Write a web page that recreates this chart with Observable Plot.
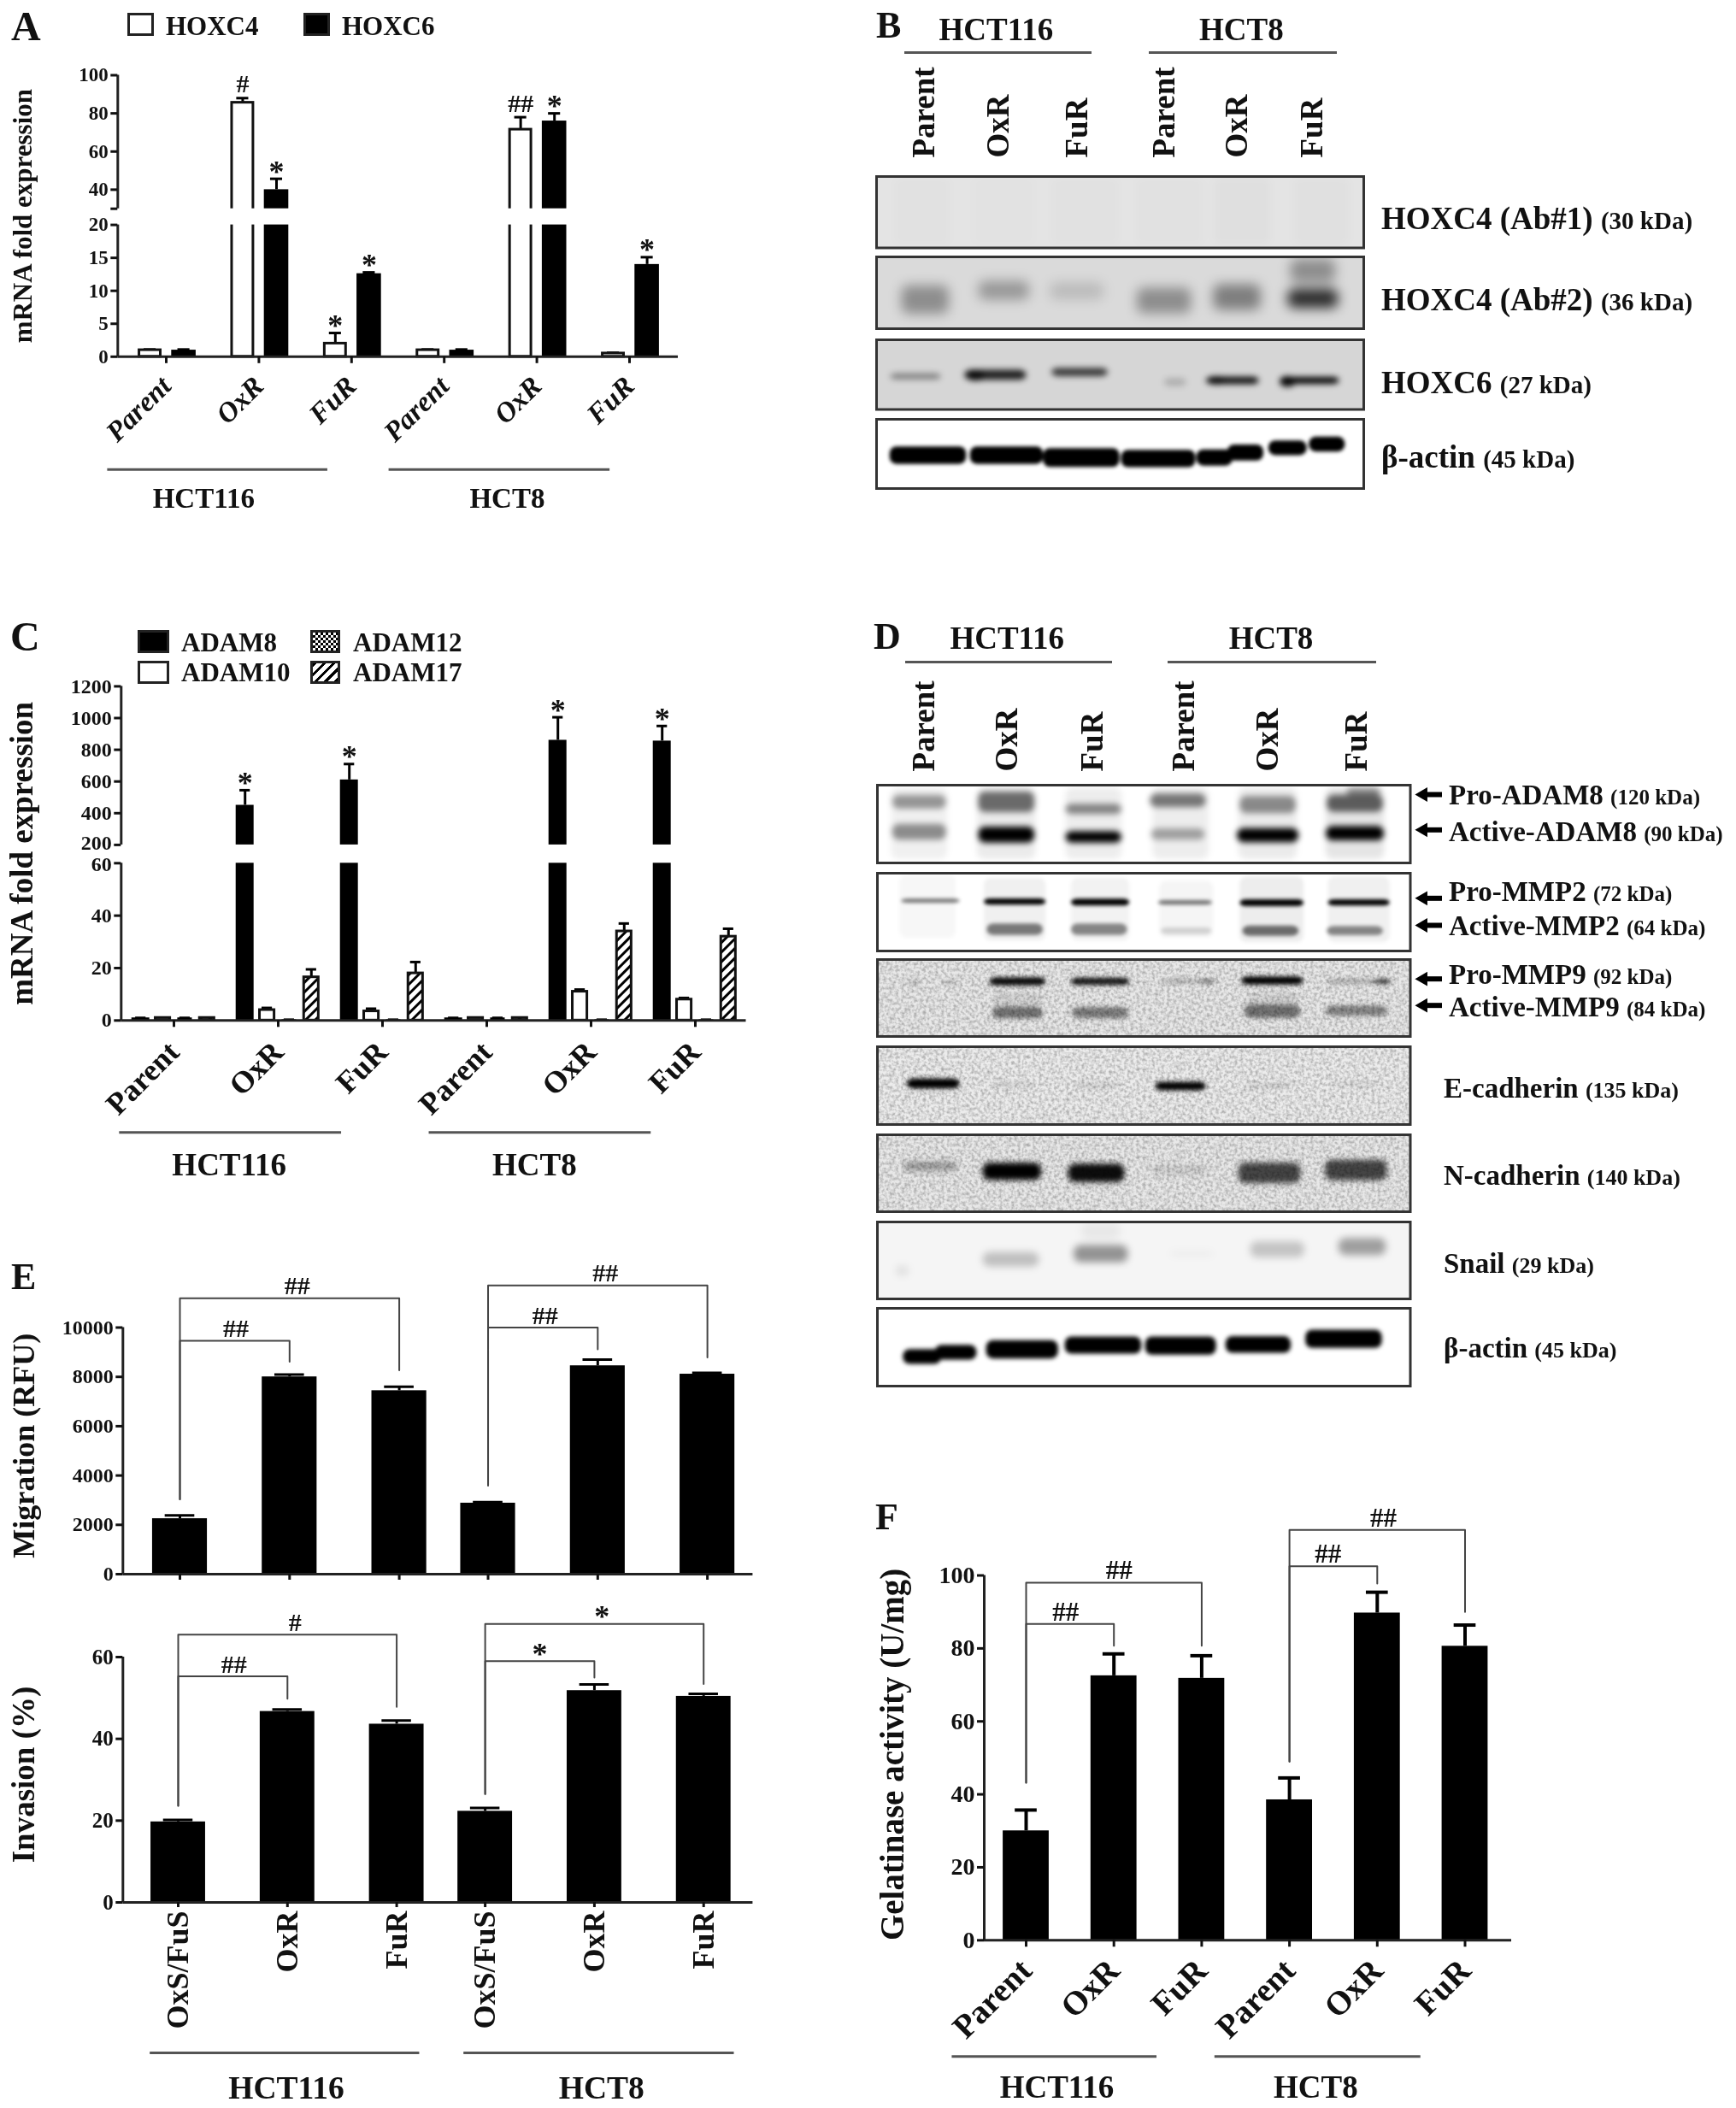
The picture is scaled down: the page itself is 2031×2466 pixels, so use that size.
<!DOCTYPE html>
<html><head><meta charset="utf-8">
<script src="https://cdn.jsdelivr.net/npm/d3@7"></script>
<script src="https://cdn.jsdelivr.net/npm/@observablehq/plot@0.6"></script>
<style>
html,body{margin:0;padding:0;background:#fff}
#page{position:relative;width:2031px;height:2466px;overflow:hidden;font-family:"Liberation Serif","Times New Roman",serif;font-weight:bold;color:#111;filter:blur(.55px)}
.t{position:absolute;white-space:nowrap;line-height:1;transform:translateY(-50%)}
.l{position:absolute;height:3px;background:#555}
.s{position:absolute;box-sizing:border-box;border:3px solid #222}
.p{position:absolute}
</style></head><body><div id="page">
<svg width="0" height="0" style="position:absolute"><defs>
<pattern id="hatch" patternUnits="userSpaceOnUse" width="8" height="8" patternTransform="rotate(45)"><rect width="8" height="8" fill="#fff"/><rect width="3" height="8" fill="#000"/></pattern>
<filter id="grain" x="0" y="0" width="100%" height="100%"><feTurbulence type="fractalNoise" baseFrequency=".28" numOctaves="2" seed="3"/><feColorMatrix type="matrix" values="0 0 0 0 0  0 0 0 0 0  0 0 0 0 0  .55 0 0 0 -.2"/><feComposite in2="SourceAlpha" operator="in"/></filter>
</defs></svg>
</div>
<script>
// ---------- DATA ----------
const groupsParent = ["Parent","OxR","FuR","Parent","OxR","FuR"];
const groupsOxS = ["OxS/FuS","OxR","FuR","OxS/FuS","OxR","FuR"];
const evenX = [0,1,2,3,4,5];
const splitX = [0,1,2,2.81,3.81,4.81];

const hoxc4 = [1,85.6,2,1,71.5,0.5];
const hoxc4Top = [1.1,88,3.6,1.1,78,0.6];
const hoxc6 = [1,40,12.6,1,76,14];
const hoxc6Top = [1.1,45.7,12.8,1.1,80,15.1];

const adam8 = [1,450,610,1,860,855];
const adam8Top = [1,545,710,1,1005,950];
const adam10 = [1,4,3.5,1,11,8];
const adam10Top = [1,4.8,4.5,1,11.8,8.6];
const adam12 = [1,0.3,0.3,1,0.3,0.3];
const adam12Top = [1,0.3,0.3,1,0.3,0.3];
const adam17 = [1,16.5,18,1,34,32];
const adam17Top = [1,19.5,22.3,1,37,35];

const migration = [2250,8000,7440,2880,8450,8110];
const migrationTop = [2380,8090,7600,2920,8700,8160];
const invasion = [19.7,46.7,43.6,22.3,51.8,50.4];
const invasionTop = [20.2,47.2,44.5,23.1,53.3,51];
const gelatinase = [30,72.5,71.8,38.5,89.7,80.6];
const gelatinaseTop = [35.7,78.5,78,44.5,95.4,86.4];

const migrationBrackets = [
 {a:0,b:2,start:3030,top:11190,end:8270,text:"##",at:1.07},
 {a:0,b:1,start:3030,top:9460,end:8610,text:"##",at:0.51},
 {a:2.81,b:4.81,start:3600,top:11710,end:8790,text:"##",at:3.88},
 {a:2.81,b:3.81,start:3600,top:10000,end:9120,text:"##",at:3.33}];
const invasionBrackets = [
 {a:0,b:2,start:23.6,top:65.5,end:47.8,text:"#",at:1.07},
 {a:0,b:1,start:23.6,top:55.3,end:49.8,text:"##",at:0.51},
 {a:2.81,b:4.81,start:26.5,top:68.1,end:53.4,text:"*",at:3.88},
 {a:2.81,b:3.81,start:26.5,top:59,end:55,text:"*",at:3.31}];
const gelatinaseBrackets = [
 {a:0,b:2,start:43.2,top:98,end:80.7,text:"##",at:1.06},
 {a:0,b:1,start:43.2,top:86.7,end:80.7,text:"##",at:0.45},
 {a:3,b:5,start:49,top:112.5,end:90,text:"##",at:4.07},
 {a:3,b:4,start:49,top:102.5,end:97.8,text:"##",at:3.44}];

// bands: [lane centre, migration, half width, half height, darkness] in scan units
const bAb1 = [[120,625,50,100,.012],[265,625,55,100,.008],[410,625,60,100,.012],[560,625,60,100,.012],[690,625,50,100,.02],[830,625,50,100,.015]];
const bAb2 = [[125,885,42,42,.35],[265,858,45,28,.3],[395,860,48,25,.14],[550,888,48,38,.35],[680,878,42,38,.42],[815,882,45,28,.8],[815,800,40,35,.35]];
const bC6 = [[108,1113,45,9,.4],[250,1108,55,15,.85],[215,1110,15,16,.7],[400,1100,50,12,.75],[570,1130,20,12,.18],[672,1125,47,11,.95],[645,1125,15,12,.7],[810,1125,52,10,1],[770,1128,14,16,.9]];
const bActin = [[130,1345,68,26,1],[270,1345,65,26,1],[403,1352,68,28,1],[540,1355,66,26,1],[640,1352,32,24,1],[695,1337,32,24,1],[770,1323,34,22,1],[840,1312,32,22,1]];
const dAdam8 = [[115,790,50,125,.06],[270,790,52,125,.08],[425,790,50,125,.07],[580,790,50,125,.07],[735,790,52,125,.08],[890,790,52,125,.1],
 [115,715,48,24,.38],[270,715,50,36,.55],[425,740,50,18,.45],[575,710,50,24,.5],[735,725,50,30,.42],[890,720,50,30,.6],[905,680,30,15,.4],
 [115,820,48,28,.42],[270,830,50,28,1],[425,838,50,20,1],[575,828,48,20,.33],[735,832,55,25,1],[890,825,52,25,1]];
const dMmp2 = [[130,1080,50,110,.03],[285,1090,55,110,.06],[437,1090,52,110,.05],[590,1090,48,100,.04],[742,1090,57,115,.07],[897,1090,55,115,.06],
 [135,1060,52,7,.55],[285,1063,55,11,1],[437,1065,52,12,1],[588,1066,48,8,.55],[742,1067,57,12,1],[897,1066,55,11,1],
 [285,1160,50,20,.5],[435,1160,50,20,.45],[590,1165,45,12,.15],[740,1165,50,18,.55],[890,1165,50,16,.45]];
const dMmp9 = [[105,1350,12,8,.18],[172,1350,12,8,.18],[290,1345,50,14,.95],[437,1345,52,13,.9],[590,1345,45,7,.25],[630,1345,12,8,.4],[743,1342,55,14,1],[895,1345,55,7,.3],[940,1345,15,10,.6],
 [290,1455,45,20,.5],[437,1455,50,20,.45],[743,1450,50,23,.5],[893,1448,55,18,.42],[290,1410,45,25,.08],[743,1410,45,25,.08]];
const dEcad = [[140,203,47,17,1],[580,212,45,15,1],[280,208,40,8,.1],[430,210,40,8,.12],[735,210,40,8,.12],[890,205,45,8,.08]];
const dNcad = [[135,492,48,17,.3],[280,510,52,30,1],[430,515,50,32,.95],[578,505,50,17,.1],[738,515,55,36,.7],[892,505,55,36,.7]];
const dSnail = [[85,860,12,20,.08],[278,820,50,25,.22],[438,800,48,30,.4],[438,720,35,30,.05],[600,800,40,8,.04],[752,785,48,28,.2],[903,775,42,30,.35]];
const dActin = [[120,1160,34,26,1],[180,1145,37,26,1],[298,1135,64,32,1],[442,1120,68,30,1],[580,1122,63,32,1],[718,1118,58,29,1],[870,1098,68,32,1]];

const page = document.getElementById("page");
const FONT = '"Liberation Serif","Times New Roman",serif';

// ---------- page furniture ----------
function txt(x, y, parts, extra) {
  const d = document.createElement("div"); d.className = "t";
  d.style.left = x + "px"; d.style.top = y + "px";
  if (extra) Object.assign(d.style, extra);
  for (const [s, size] of parts) { const sp = document.createElement("span"); sp.textContent = s; sp.style.fontSize = size + "px"; d.appendChild(sp); }
  page.appendChild(d); return d;
}
function line(x1, x2, y) { const d = document.createElement("div"); d.className = "l"; Object.assign(d.style,{left:x1+"px",top:(y-1.5)+"px",width:(x2-x1)+"px"}); page.appendChild(d); }
function swatch(x, y, w, h, bg) { const d = document.createElement("div"); d.className = "s"; Object.assign(d.style,{left:x+"px",top:y+"px",width:w+"px",height:h+"px",background:bg}); page.appendChild(d); }
function place(svg, box) { const d = document.createElement("div"); d.className = "p"; Object.assign(d.style,{left:box[0]+"px",top:box[1]+"px",width:(box[2]-box[0])+"px",height:(box[3]-box[1])+"px"}); d.appendChild(svg); page.appendChild(d); }

// ---------- bar panels ----------
function barChart(c) {
  const [bx0,by0,bx1,by1] = c.box;
  const xDom = [(c.frameL-c.x0)/c.step, (c.frameR-c.x0)/c.step];
  const rowsOf = s => c.xs.map((x,i)=>({x:x+(s.offset||0),v:s.values[i],top:s.tops[i],i}));
  const marks = [];
  for (const s of c.series) {
    const rows = rowsOf(s);
    marks.push(Plot.ruleX(rows,{x:"x",y1:"v",y2:"top",stroke:"#000",strokeWidth:c.errWidth||3}));
    marks.push(Plot.ruleY(rows,{y:"top",x1:d=>d.x-c.cap,x2:d=>d.x+c.cap,stroke:"#000",strokeWidth:c.errWidth||3}));
    marks.push(Plot.rect(rows,{x1:d=>d.x-s.hw,x2:d=>d.x+s.hw,y1:()=>0,y2:"v",fill:s.fill,stroke:s.stroke||"none",strokeWidth:3}));
  }
  if (c.gap) {
    marks.push(Plot.rect([0],{x1:()=>xDom[0],x2:()=>xDom[1],y1:()=>c.gap[0],y2:()=>c.gap[1],fill:"#fff"}));
    marks.push(Plot.ruleX([xDom[0]],{y1:()=>c.yDomain[0],y2:()=>c.gap[0],strokeWidth:3,stroke:"#222"}));
    marks.push(Plot.ruleX([xDom[0]],{y1:()=>c.gap[1],y2:()=>c.yDomain[c.yDomain.length-1],strokeWidth:3,stroke:"#222"}));
  } else {
    marks.push(Plot.ruleX([xDom[0]],{y1:()=>c.yDomain[0],y2:()=>c.yDomain[c.yDomain.length-1],strokeWidth:3,stroke:"#222"}));
  }
  marks.push(Plot.ruleY([0],{strokeWidth:3,stroke:"#222"}));
  const nudge = c.yNudge || {};
  marks.push(Plot.axisY({ticks:c.yTicks,tickSize:8,tickPadding:3,strokeWidth:3,fontSize:c.tickFont,label:null,
    tickFormat:d=>((c.yBlank&&c.yBlank.includes(d))||d in nudge)?"":String(d)}));
  for (const k of Object.keys(nudge)) {
    marks.push(Plot.axisY({ticks:[+k],tickSize:0,tickPadding:11,fontSize:c.tickFont,label:null,dy:nudge[k],tickFormat:d=>String(d)}));
  }
  marks.push(Plot.axisX({ticks:c.xs,tickSize:c.xTickSize||8,strokeWidth:3,label:null,anchor:"bottom",
    tickRotate:c.rotate,tickPadding:c.padX,fontSize:c.labelFont,fontStyle:c.italic?"italic":"normal",
    tickFormat:d=>c.labels?c.labels[c.xs.indexOf(d)]:""}));
  marks.push(Plot.text([c.yLabel],{frameAnchor:"left",textAnchor:"middle",dx:c.yLabelX-c.frameL,dy:c.yLabelDy||0,rotate:-90,fontSize:c.yLabelFont,text:d=>d}));
  if (c.annots) {
    const rows = c.annots.map(a=>{const s=c.series[a.s];return {x:c.xs[a.g]+(s.offset||0),top:s.tops[a.g],t:a.t};});
    const star = rows.filter(d=>d.t==="*"), hash = rows.filter(d=>d.t!=="*");
    marks.push(Plot.text(star,{x:"x",y:"top",text:"t",fontSize:c.annotFont+6,dy:-8}));
    marks.push(Plot.text(hash,{x:"x",y:"top",text:"t",fontSize:c.annotFont,dy:-16}));
  }
  if (c.brackets) {
    const pts = c.brackets.flatMap((b,k)=>[{k,x:b.a,y:b.start},{k,x:b.a,y:b.top},{k,x:b.b,y:b.top},{k,x:b.b,y:b.end}]);
    marks.push(Plot.line(pts,{x:"x",y:"y",z:"k",stroke:"#444",strokeWidth:2,curve:"linear"}));
    marks.push(Plot.text(c.brackets.filter(b=>b.text!=="*"),{x:"at",y:"top",text:"text",fontSize:c.hashFont,dy:-14}));
    marks.push(Plot.text(c.brackets.filter(b=>b.text==="*"),{x:"at",y:"top",text:"text",fontSize:c.hashFont+6,dy:-8}));
  }
  if (c.spans) {
    marks.push(Plot.ruleY(c.spans,{y:()=>0,x1:"x1",x2:"x2",dy:c.spanDy,stroke:"#555",strokeWidth:3}));
    marks.push(Plot.text(c.spans,{x:"mid",y:()=>0,text:"name",dy:c.nameDy,fontSize:c.nameFont}));
  }
  const yPx = c.yPx.map(v=>v-by0);
  place(Plot.plot({
    width:bx1-bx0,height:by1-by0,
    marginLeft:c.frameL-bx0,marginRight:bx1-c.frameR,
    marginTop:yPx[yPx.length-1],marginBottom:(by1-by0)-yPx[0],
    x:{domain:xDom,axis:null},y:{type:"linear",domain:c.yDomain,range:yPx,axis:null},
    style:{fontFamily:FONT,fontWeight:"bold",color:"#111",background:"transparent",overflow:"visible"},
    marks
  }), c.box);
}

const s = (values,tops,offset,hw,fill,stroke)=>({values,tops,offset,hw,fill,stroke});

// Panel A
barChart({box:[0,0,830,640],frameL:137.3,frameR:793,x0:194,step:108.4,xs:evenX,labels:groupsParent,
  yDomain:[0,20,30,100],yPx:[416.8,262.6,243.7,87.5],gap:[20,30],yTicks:[0,5,10,15,20,30,40,60,80,100],yBlank:[30],tickFont:23,
  series:[s(hoxc4,hoxc4Top,-.175,.115,"#fff","#111"),s(hoxc6,hoxc6Top,.19,.132,"#000")],cap:.065,
  rotate:-45,padX:21,labelFont:33,italic:true,
  yLabel:"mRNA fold expression",yLabelX:27,yLabelFont:31,
  annots:[{g:1,s:0,t:"#"},{g:1,s:1,t:"*"},{g:2,s:0,t:"*"},{g:2,s:1,t:"*"},{g:4,s:0,t:"##"},{g:4,s:1,t:"*"},{g:5,s:1,t:"*"}],annotFont:30,
  spans:[{x1:-.633,x2:1.743,mid:.404,name:"HCT116"},{x1:2.404,x2:4.789,mid:3.68,name:"HCT8"}],spanDy:132,nameDy:166,nameFont:33});
txt(13,31,[["A",48]]);
swatch(149,15,31,27,"#fff"); txt(194,30,[["HOXC4",31]]);
swatch(355,15,31,27,"#000"); txt(400,30,[["HOXC6",31]]);

// Panel C
barChart({box:[0,700,950,1420],frameL:141.3,frameR:872.5,x0:203,step:122,xs:evenX,labels:groupsParent,
  yDomain:[0,60,200,1200],yPx:[1193.3,1009.3,987.9,802.4],gap:[60,200],yTicks:[0,20,40,60,200,400,600,800,1000,1200],tickFont:24,yNudge:{60:1.5,200:-2},
  series:[s(adam8,adam8Top,-.318,.086,"#000"),s(adam10,adam10Top,-.106,.07,"#fff","#111"),s(adam12,adam12Top,.106,.07,"#000"),s(adam17,adam17Top,.318,.07,"url(#hatch)","#111")],cap:.05,
  rotate:-45,padX:23,labelFont:36,
  yLabel:"mRNA fold expression",yLabelX:26,yLabelFont:37,
  annots:[{g:1,s:0,t:"*"},{g:2,s:0,t:"*"},{g:4,s:0,t:"*"},{g:5,s:0,t:"*"}],annotFont:30,
  spans:[{x1:-.522,x2:1.607,mid:.53,name:"HCT116"},{x1:2.447,x2:4.576,mid:3.458,name:"HCT8"}],spanDy:131,nameDy:169,nameFont:37});
txt(12,745,[["C",48]]);
swatch(161,737,37,27,"#000"); txt(212,751,[["ADAM8",31]]);
swatch(161,773,37,27,"#fff"); txt(212,786,[["ADAM10",31]]);
swatch(363,737,35,27,"repeating-conic-gradient(#000 0 25%,#fff 0 50%) 0 0/6px 6px"); txt(413,751,[["ADAM12",31]]);
swatch(363,773,35,27,"repeating-linear-gradient(135deg,#000 0 3px,#fff 3px 8px)"); txt(413,786,[["ADAM17",31]]);

// Panel E
barChart({box:[0,1480,900,1860],frameL:143.3,frameR:880.4,x0:210,step:128.3,xs:splitX,
  yDomain:[0,10000],yPx:[1841,1552.5],yTicks:[0,2000,4000,6000,8000,10000],tickFont:24,
  series:[s(migration,migrationTop,0,.25,"#000")],cap:.135,
  rotate:0,padX:4,labelFont:10,xTickSize:7,
  yLabel:"Migration (RFU)",yLabelX:28,yLabelFont:36,yLabelDy:-6,
  brackets:migrationBrackets,hashFont:30});
barChart({box:[0,1860,900,2466],frameL:143.3,frameR:880.4,x0:208,step:127.8,xs:splitX,labels:groupsOxS,
  yDomain:[0,60],yPx:[2225,1938],yTicks:[0,20,40,60],tickFont:25,
  series:[s(invasion,invasionTop,0,.25,"#000")],cap:.135,
  rotate:-90,padX:4,labelFont:36,xTickSize:6,
  yLabel:"Invasion (%)",yLabelX:28,yLabelFont:37,yLabelDy:-6,
  brackets:invasionBrackets,hashFont:30,
  spans:[{x1:-.257,x2:2.21,mid:.99,name:"HCT116"},{x1:2.615,x2:5.09,mid:3.875,name:"HCT8"}],spanDy:176,nameDy:217,nameFont:37.5});
txt(13,1494,[["E",44]]);

// Panel F
barChart({box:[1000,1760,1800,2466],frameL:1151,frameR:1768,x0:1200,step:102.7,xs:evenX,labels:groupsParent,
  yDomain:[0,100],yPx:[2269.3,1842.5],yTicks:[0,20,40,60,80,100],tickFont:28,
  series:[s(gelatinase,gelatinaseTop,0,.262,"#000")],cap:.125,errWidth:4,
  rotate:-45,padX:21,labelFont:39,
  yLabel:"Gelatinase activity (U/mg)",yLabelX:1044,yLabelFont:39,yLabelDy:-4,
  brackets:gelatinaseBrackets,hashFont:31,
  spans:[{x1:-.843,x2:1.49,mid:.35,name:"HCT116"},{x1:2.15,x2:4.496,mid:3.3,name:"HCT8"}],spanDy:136,nameDy:172,nameFont:37});
txt(1024,1775,[["F",44]]);

// ---------- blots ----------
function blot(c) {
  const top = c.lanes ? 145 : 0, right = c.arrows ? 60 : 0;
  const w = c.right-c.left, h = c.bottom-c.top;
  const box = [c.left,c.top-top,c.right+right,c.bottom];
  const marks = [Plot.frame({fill:c.bg||"#fff",stroke:"none"})];
  if (c.grain) marks.push(Plot.frame({fill:"#000",stroke:"none",imageFilter:"url(#grain)"}));
  marks.push(
    Plot.rect(c.bands||[],{x1:d=>d[0]-d[2],x2:d=>d[0]+d[2],y1:d=>d[1]-d[3],y2:d=>d[1]+d[3],fill:"#000",fillOpacity:d=>d[4],rx:8,imageFilter:`blur(${c.blur||3}px)`,clip:"frame"}),
    Plot.frame({stroke:"#333",strokeWidth:3})
  );
  if (c.lanes) marks.push(Plot.axisX({anchor:"top",ticks:c.lanes,tickSize:0,tickPadding:c.lanePad,tickRotate:-90,fontSize:37,label:null,tickFormat:d=>groupsParent[c.lanes.indexOf(d)]}));
  if (c.arrows) {
    marks.push(Plot.ruleY(c.arrows,{y:d=>d,x1:()=>c.arrowX[0]+12,x2:()=>c.arrowX[1],stroke:"#000",strokeWidth:6}));
    marks.push(Plot.dot(c.arrows,{x:()=>c.arrowX[0]+13,y:d=>d,symbol:"triangle2",rotate:-90,r:8,fill:"#000",stroke:"none"}));
  }
  place(Plot.plot({
    width:w+right,height:h+top,marginLeft:0,marginRight:right,marginTop:top,marginBottom:0,
    x:{domain:c.xDom,axis:null},y:{domain:[c.yDom[1],c.yDom[0]],axis:null},
    style:{fontFamily:FONT,fontWeight:"bold",color:"#111",background:"transparent",overflow:"visible"},
    marks
  }),box);
}
const bL=1025,bR=1595,bX=[38,905];
blot({left:bL,right:bR,top:206,bottom:289.5,xDom:bX,yDom:[520,733],bg:"#e4e4e4",bands:bAb1,blur:5,lanes:[122,255,395,550,680,813],lanePad:22});
blot({left:bL,right:bR,top:299.5,bottom:383.5,xDom:bX,yDom:[758,970],bg:"#dadada",bands:bAb2,blur:7});
blot({left:bL,right:bR,top:397,bottom:478.5,xDom:bX,yDom:[1003,1210],bg:"#d6d6d6",bands:bC6,blur:3.5});
blot({left:bL,right:bR,top:489.5,bottom:570.5,xDom:bX,yDom:[1237,1443],bands:bActin,blur:2});

const dL=1026,dR=1649.5,dX=[40,988],aX=[998,1045];
blot({left:dL,right:dR,top:918,bottom:1009,xDom:dX,yDom:[655,928],bands:dAdam8,blur:3.5,lanes:[123,270,423,585,735,892],lanePad:16,arrows:[688,812],arrowX:aX});
blot({left:dL,right:dR,top:1021,bottom:1112,xDom:dX,yDom:[962,1235],bands:dMmp2,blur:2,arrows:[1050,1145],arrowX:aX});
blot({left:dL,right:dR,top:1122,bottom:1212,xDom:dX,yDom:[1267,1537],bg:"#e8e8e8",grain:true,bands:dMmp9,blur:2.5,arrows:[1335,1428],arrowX:aX});
blot({left:dL,right:dR,top:1224,bottom:1315,xDom:dX,yDom:[73,345],bg:"#ececec",grain:true,bands:dEcad,blur:2.5});
blot({left:dL,right:dR,top:1327,bottom:1417,xDom:dX,yDom:[380,650],bg:"#e8e8e8",grain:true,bands:dNcad,blur:3});
blot({left:dL,right:dR,top:1429,bottom:1519,xDom:dX,yDom:[687,958],bg:"#f5f5f5",bands:dSnail,blur:4});
blot({left:dL,right:dR,top:1530,bottom:1621,xDom:dX,yDom:[990,1262],bands:dActin,blur:2.5});

// Panel B labels
txt(1025,30,[["B",44]]);
txt(1098.5,34,[["HCT116",37]]); txt(1403,34,[["HCT8",37]]);
line(1057.7,1277.5,61.7); line(1344,1564,61.7);
txt(1616,254.7,[["HOXC4 (Ab#1) ",37],["(30 kDa)",29]]);
txt(1616,350,[["HOXC4 (Ab#2) ",37],["(36 kDa)",29]]);
txt(1616,446.7,[["HOXC6 ",37],["(27 kDa)",29]]);
txt(1616,534,[["β-actin ",37],["(45 kDa)",29]]);

// Panel D labels
txt(1022,745,[["D",44]]);
txt(1111.4,746,[["HCT116",37]]); txt(1437.7,746,[["HCT8",37]]);
line(1058.7,1301.4,774); line(1366,1610,774);
txt(1695,930,[["Pro-ADAM8 ",33],["(120 kDa)",25]]);
txt(1695,973,[["Active-ADAM8 ",33],["(90 kDa)",25]]);
txt(1695,1043,[["Pro-MMP2 ",33],["(72 kDa)",25]]);
txt(1695,1083,[["Active-MMP2 ",33],["(64 kDa)",25]]);
txt(1695,1140,[["Pro-MMP9 ",33],["(92 kDa)",25]]);
txt(1695,1178,[["Active-MMP9 ",33],["(84 kDa)",25]]);
txt(1689,1273,[["E-cadherin ",33],["(135 kDa)",26]]);
txt(1689,1375,[["N-cadherin ",33],["(140 kDa)",26]]);
txt(1689,1478,[["Snail ",33],["(29 kDa)",26]]);
txt(1689,1577,[["β-actin ",33],["(45 kDa)",26]]);
</script></body></html>
